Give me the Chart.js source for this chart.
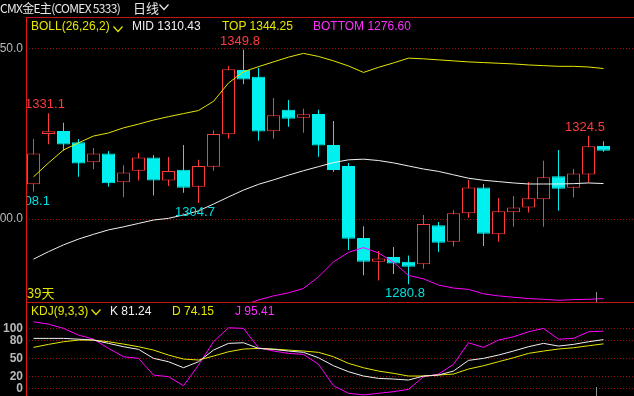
<!DOCTYPE html>
<html>
<head>
<meta charset="utf-8">
<script src="https://cdn.jsdelivr.net/npm/chart.js@4.4.0/dist/chart.umd.min.js"></script>
<style>
html, body { margin: 0; padding: 0; background: #000; overflow: hidden; }
#wrap { position: relative; width: 634px; height: 396px; background: #000; }
canvas { position: absolute; left: 0; }
.t { position: absolute; white-space: nowrap; font: 12px 'Liberation Sans', Arial, sans-serif; line-height: 12px; }
.cjk { font-family: 'Noto Sans CJK SC', sans-serif; font-size: 13px; line-height: 13px; }
.title { font-size: 12px; letter-spacing: -0.7px; }
.chev { position: absolute; }
</style>
</head>
<body>
<div id="wrap">
  <canvas id="mainChart" width="634" height="302" style="top:0"></canvas>
  <canvas id="kdjChart" width="634" height="94" style="top:302px"></canvas>

  <div class="t cjk title" style="left:0;top:1px;color:#e8e8e8">CMX金E主(COMEX 5333)</div>
  <div class="t cjk" style="left:133px;top:1px;color:#e8e8e8">日线</div>
  <svg class="chev" style="left:159px;top:4px" width="10" height="7"><polyline points="0.5,0.5 5,5.5 9.5,0.5" fill="none" stroke="#e8e8e8" stroke-width="1.2"/></svg>

  <div class="t" style="left:31px;top:20px;color:#e6e600">BOLL(26,26,2)</div>
  <svg class="chev" style="left:113px;top:26px" width="10" height="7"><polyline points="0.5,0.5 5,5.5 9.5,0.5" fill="none" stroke="#e6e600" stroke-width="1.2"/></svg>
  <div class="t" style="left:132px;top:20px;color:#f0f0f0">MID 1310.43</div>
  <div class="t" style="left:222px;top:20px;color:#e6e600">TOP 1344.25</div>
  <div class="t" style="left:313px;top:20px;color:#ff30ff">BOTTOM 1276.60</div>

  <div class="t cjk" style="left:27px;top:286px;color:#e6e600">39天</div>

  <div class="t" style="left:31px;top:305px;color:#e6e600">KDJ(9,3,3)</div>
  <svg class="chev" style="left:91px;top:309px" width="10" height="7"><polyline points="0.5,0.5 5,5.5 9.5,0.5" fill="none" stroke="#e6e600" stroke-width="1.2"/></svg>
  <div class="t" style="left:110px;top:305px;color:#f0f0f0">K 81.24</div>
  <div class="t" style="left:172px;top:305px;color:#e6e600">D 74.15</div>
  <div class="t" style="left:235px;top:305px;color:#ff30ff">J 95.41</div>
</div>

<script>
// daily candles, 39 days
const opens  = [1310.2, 1325.0, 1325.9, 1322.6, 1316.7, 1319.3, 1310.8, 1314.2, 1318.1, 1311.3,
                1314.5, 1309.5, 1315.4, 1324.9, 1343.8, 1341.8, 1325.8, 1332.1, 1329.8, 1330.9,
                1321.8, 1315.6, 1294.4, 1287.4, 1288.8, 1287.4, 1286.7, 1298.2, 1293.3, 1301.7,
                1309.3, 1295.5, 1302.0, 1303.4, 1305.8, 1312.6, 1309.2, 1313.1, 1321.5];
const highs  = [1323.5, 1331.1, 1328.3, 1323.5, 1320.9, 1320.0, 1315.8, 1319.4, 1318.8, 1318.2,
                1321.8, 1317.4, 1326.0, 1345.0, 1349.8, 1344.5, 1335.6, 1335.0, 1332.4, 1332.1,
                1328.8, 1316.5, 1297.9, 1290.6, 1291.8, 1289.3, 1301.2, 1299.1, 1302.6, 1311.5,
                1310.3, 1306.2, 1306.8, 1310.9, 1317.1, 1320.3, 1314.7, 1324.5, 1322.9];
const lows   = [1308.1, 1322.0, 1320.1, 1312.4, 1314.6, 1309.5, 1306.4, 1311.3, 1306.9, 1309.7,
                1307.7, 1304.7, 1314.2, 1323.7, 1339.6, 1323.0, 1323.6, 1327.1, 1325.4, 1318.3,
                1313.9, 1290.9, 1283.5, 1281.9, 1283.8, 1280.8, 1285.4, 1290.3, 1291.9, 1300.4,
                1292.1, 1293.3, 1297.7, 1301.9, 1297.7, 1302.4, 1306.3, 1310.7, 1319.8];
const closes = [1319.3, 1325.8, 1321.9, 1316.3, 1319.3, 1310.5, 1313.7, 1318.1, 1311.3, 1314.1,
                1309.2, 1315.6, 1325.0, 1344.0, 1341.0, 1325.7, 1330.5, 1329.5, 1330.8, 1321.6,
                1314.4, 1294.2, 1287.4, 1288.4, 1286.9, 1286.0, 1298.5, 1293.0, 1301.7, 1309.3,
                1295.7, 1302.3, 1303.4, 1306.1, 1312.3, 1308.9, 1313.4, 1321.4, 1320.1];

// BOLL(26,26,2)
const bollTop = [1312.4, 1316.5, 1320.3, 1322.4, 1324.4, 1325.3, 1326.8, 1327.9, 1329.1, 1330.1,
                 1331.0, 1331.9, 1334.6, 1340.0, 1343.3, 1344.8, 1346.2, 1347.6, 1348.7, 1347.8,
                 1346.5, 1345.0, 1343.1, 1344.6, 1345.9, 1347.3, 1347.1, 1346.8, 1346.5, 1346.2,
                 1346.0, 1345.8, 1345.6, 1345.3, 1345.1, 1344.9, 1344.9, 1344.7, 1344.25];
const bollMid = [1288.2, 1290.4, 1292.4, 1294.1, 1295.5, 1296.8, 1297.7, 1298.7, 1299.7, 1300.2,
                 1301.2, 1302.4, 1304.4, 1306.5, 1308.5, 1310.2, 1311.5, 1312.9, 1314.2, 1315.4,
                 1316.6, 1317.4, 1317.6, 1317.2, 1316.5, 1315.6, 1314.7, 1314.0, 1313.0, 1312.0,
                 1311.4, 1311.0, 1310.6, 1310.3, 1310.3, 1310.3, 1310.4, 1310.6, 1310.43];
const bollBottom = [1264.0, 1264.3, 1264.5, 1265.8, 1266.6, 1268.3, 1268.6, 1269.5, 1270.3, 1270.3,
                    1271.4, 1272.9, 1274.2, 1273.0, 1274.6, 1276.2, 1277.4, 1278.3, 1279.6, 1283.0,
                    1287.4, 1290.2, 1291.6, 1290.0, 1287.3, 1283.4, 1282.4, 1280.6, 1279.7, 1279.3,
                    1278.0, 1277.4, 1277.0, 1276.6, 1276.4, 1276.1, 1276.3, 1276.4, 1276.6];

// KDJ(9,3,3)
const kLine = [83.3, 83.3, 83.3, 82.0, 80.5, 75.0, 69.4, 65.0, 50.0, 44.4,
               34.4, 44.4, 63.8, 75.0, 76.0, 66.6, 65.0, 62.2, 60.0, 51.0,
               37.7, 27.7, 20.5, 16.6, 15.5, 13.8, 20.5, 22.2, 28.8, 46.6,
               50.0, 55.5, 62.2, 69.4, 75.0, 70.5, 73.3, 77.7, 81.24];
const dLine = [68.3, 73.3, 77.7, 80.5, 80.5, 77.7, 73.8, 69.4, 63.8, 55.5,
               48.8, 47.2, 53.8, 61.0, 65.5, 66.6, 65.5, 63.8, 62.2, 60.0,
               52.7, 41.6, 34.3, 28.8, 25.0, 20.5, 20.5, 22.2, 23.8, 32.2,
               37.7, 44.4, 51.0, 58.3, 62.2, 65.5, 67.7, 71.0, 74.15];
const jLine = [111.0, 107.0, 100.0, 88.8, 82.0, 66.6, 52.7, 50.0, 22.2, 19.4,
               4.4, 38.8, 77.7, 101.0, 100.0, 67.7, 62.2, 58.3, 56.6, 40.0,
               4.4, -8.3, -11.0, -8.3, -5.6, -1.7, 19.4, 23.8, 40.0, 76.0,
               68.3, 80.5, 86.0, 94.3, 100.0, 82.0, 83.3, 94.3, 95.41];

const priceTicks = [1300, 1350];
const kdjTicks = [0, 20, 50, 80, 100];
const highMarks = [1, 14, 37];   // candles with a high label
const lowMarks = [0, 11, 25];    // candles with a low label

const upColor = '#ff3c3c';
const downColor = '#00f0f0';
const frameRed = '#c01414';
const gridRed = '#9a1010';

const idx = opens.map((_, i) => i);
const isUp = idx.map(i => closes[i] >= opens[i]);
const candleColor = idx.map(i => isUp[i] ? upColor : downColor);
const xy = arr => arr.map((v, i) => ({ x: i, y: v }));

// x range: -0.5 .. so each day is 15px wide in a 608px plot
const xMin = -0.5, xMax = 40.033;

function fixedAxis(s) {
  s.width = 26;
  s.paddingTop = 0;
  s.paddingBottom = 0;
}

const mainDecor = {
  id: 'mainDecor',
  afterDatasetsDraw(chart) {
    const { ctx, chartArea: a, scales: { x, y } } = chart;
    ctx.save();
    ctx.beginPath();
    ctx.rect(a.left + 1, a.top, a.right - a.left, a.bottom - a.top);
    ctx.clip();
    ctx.font = '13px "Liberation Sans", Arial, sans-serif';
    ctx.textAlign = 'center';
    ctx.textBaseline = 'middle';
    ctx.fillStyle = upColor;
    highMarks.forEach(i => {
      ctx.fillText(highs[i].toFixed(1), x.getPixelForValue(i) - 3.5, y.getPixelForValue(highs[i]) - 8.5);
    });
    ctx.fillStyle = '#00e0e0';
    lowMarks.forEach(i => {
      ctx.fillText(lows[i].toFixed(1), x.getPixelForValue(i) - 3.5, y.getPixelForValue(lows[i]) + 9.5);
    });
    ctx.restore();

    ctx.save();
    ctx.lineWidth = 1;
    ctx.strokeStyle = frameRed;
    ctx.beginPath();
    ctx.moveTo(a.left, a.top + 0.5);
    ctx.lineTo(a.right, a.top + 0.5);
    ctx.stroke();
    ctx.strokeStyle = '#e01818';
    ctx.beginPath();
    ctx.moveTo(a.left + 0.5, a.top);
    ctx.lineTo(a.left + 0.5, a.bottom);
    ctx.stroke();
    // last-day cursor tick
    const cx = Math.round(x.getPixelForValue(37.5)) + 0.5;
    ctx.strokeStyle = '#909090';
    ctx.beginPath();
    ctx.moveTo(cx, a.bottom - 10);
    ctx.lineTo(cx, a.bottom);
    ctx.stroke();
    ctx.restore();
  }
};

const kdjDecor = {
  id: 'kdjDecor',
  afterDatasetsDraw(chart) {
    const { ctx, chartArea: a, scales: { x } } = chart;
    ctx.save();
    ctx.lineWidth = 1;
    ctx.strokeStyle = frameRed;
    ctx.beginPath();
    ctx.moveTo(a.left, a.top + 0.5);
    ctx.lineTo(a.right, a.top + 0.5);
    ctx.stroke();
    ctx.strokeStyle = '#e01818';
    ctx.beginPath();
    ctx.moveTo(a.left + 0.5, a.top);
    ctx.lineTo(a.left + 0.5, a.bottom);
    ctx.stroke();
    const cx = Math.round(x.getPixelForValue(37.5)) + 0.5;
    ctx.strokeStyle = '#909090';
    ctx.beginPath();
    ctx.moveTo(cx, a.bottom - 9);
    ctx.lineTo(cx, a.bottom);
    ctx.stroke();
    ctx.restore();
  }
};

function bandLine(data, color) {
  return {
    type: 'line', data: xy(data), borderColor: color, borderWidth: 1,
    pointRadius: 0, tension: 0, fill: false, order: 0
  };
}

// Main panel: candles + BOLL
const mainCtx = document.getElementById('mainChart').getContext('2d');
const mainChart = new Chart(mainCtx, {
  type: 'bar',
  data: {
    datasets: [
      bandLine(bollTop, '#e6e600'),
      bandLine(bollMid, '#f0f0f0'),
      bandLine(bollBottom, '#ff00ff'),
      {
        // bodies
        data: idx.map(i => ({ x: i, y: [opens[i], closes[i]] })),
        backgroundColor: idx.map(i => isUp[i] ? '#000000' : downColor),
        borderColor: candleColor,
        borderWidth: 1,
        borderSkipped: false,
        barThickness: 13,
        grouped: false,
        inflateAmount: 0,
        order: 1
      },
      {
        // wicks
        data: idx.map(i => ({ x: i, y: [lows[i], highs[i]] })),
        backgroundColor: candleColor,
        borderWidth: 0,
        barThickness: 1,
        grouped: false,
        inflateAmount: 0,
        order: 2
      }
    ]
  },
  options: {
    responsive: false,
    animation: false,
    events: [],
    devicePixelRatio: 1,
    layout: { padding: { top: 17, right: 0, bottom: 0, left: 0 } },
    plugins: { legend: { display: false }, tooltip: { enabled: false } },
    scales: {
      x: { type: 'linear', min: xMin, max: xMax, offset: false, display: false },
      y: {
        min: 1275.6,
        max: 1359.4,
        afterFit: fixedAxis,
        afterBuildTicks: s => { s.ticks = priceTicks.map(v => ({ value: v })); },
        ticks: {
          color: '#b8b8b8',
          padding: 3,
          font: { family: 'Liberation Sans', size: 12 },
          callback: v => v.toFixed(1)
        },
        grid: { color: gridRed, drawTicks: false, lineWidth: 1 },
        border: { display: false, dash: [1, 2] }
      }
    }
  },
  plugins: [mainDecor]
});

// KDJ panel
const kdjCtx = document.getElementById('kdjChart').getContext('2d');
const kdjChart = new Chart(kdjCtx, {
  type: 'line',
  data: {
    datasets: [
      { data: xy(kLine), borderColor: '#f0f0f0', borderWidth: 1, pointRadius: 0, tension: 0 },
      { data: xy(dLine), borderColor: '#e6e600', borderWidth: 1, pointRadius: 0, tension: 0 },
      { data: xy(jLine), borderColor: '#ff00ff', borderWidth: 1, pointRadius: 0, tension: 0 }
    ]
  },
  options: {
    responsive: false,
    animation: false,
    events: [],
    devicePixelRatio: 1,
    layout: { padding: 0 },
    plugins: { legend: { display: false }, tooltip: { enabled: false } },
    scales: {
      x: { type: 'linear', min: xMin, max: xMax, display: false },
      y: {
        min: -12.8,
        max: 144,
        afterFit: fixedAxis,
        afterBuildTicks: s => { s.ticks = kdjTicks.map(v => ({ value: v })); },
        ticks: {
          color: '#b8b8b8',
          padding: 3,
          font: { family: 'Liberation Sans', size: 12, weight: 'bold' }
        },
        grid: { color: gridRed, drawTicks: false, lineWidth: 1 },
        border: { display: false, dash: [1, 2] }
      }
    }
  },
  plugins: [kdjDecor]
});
</script>
</body>
</html>
